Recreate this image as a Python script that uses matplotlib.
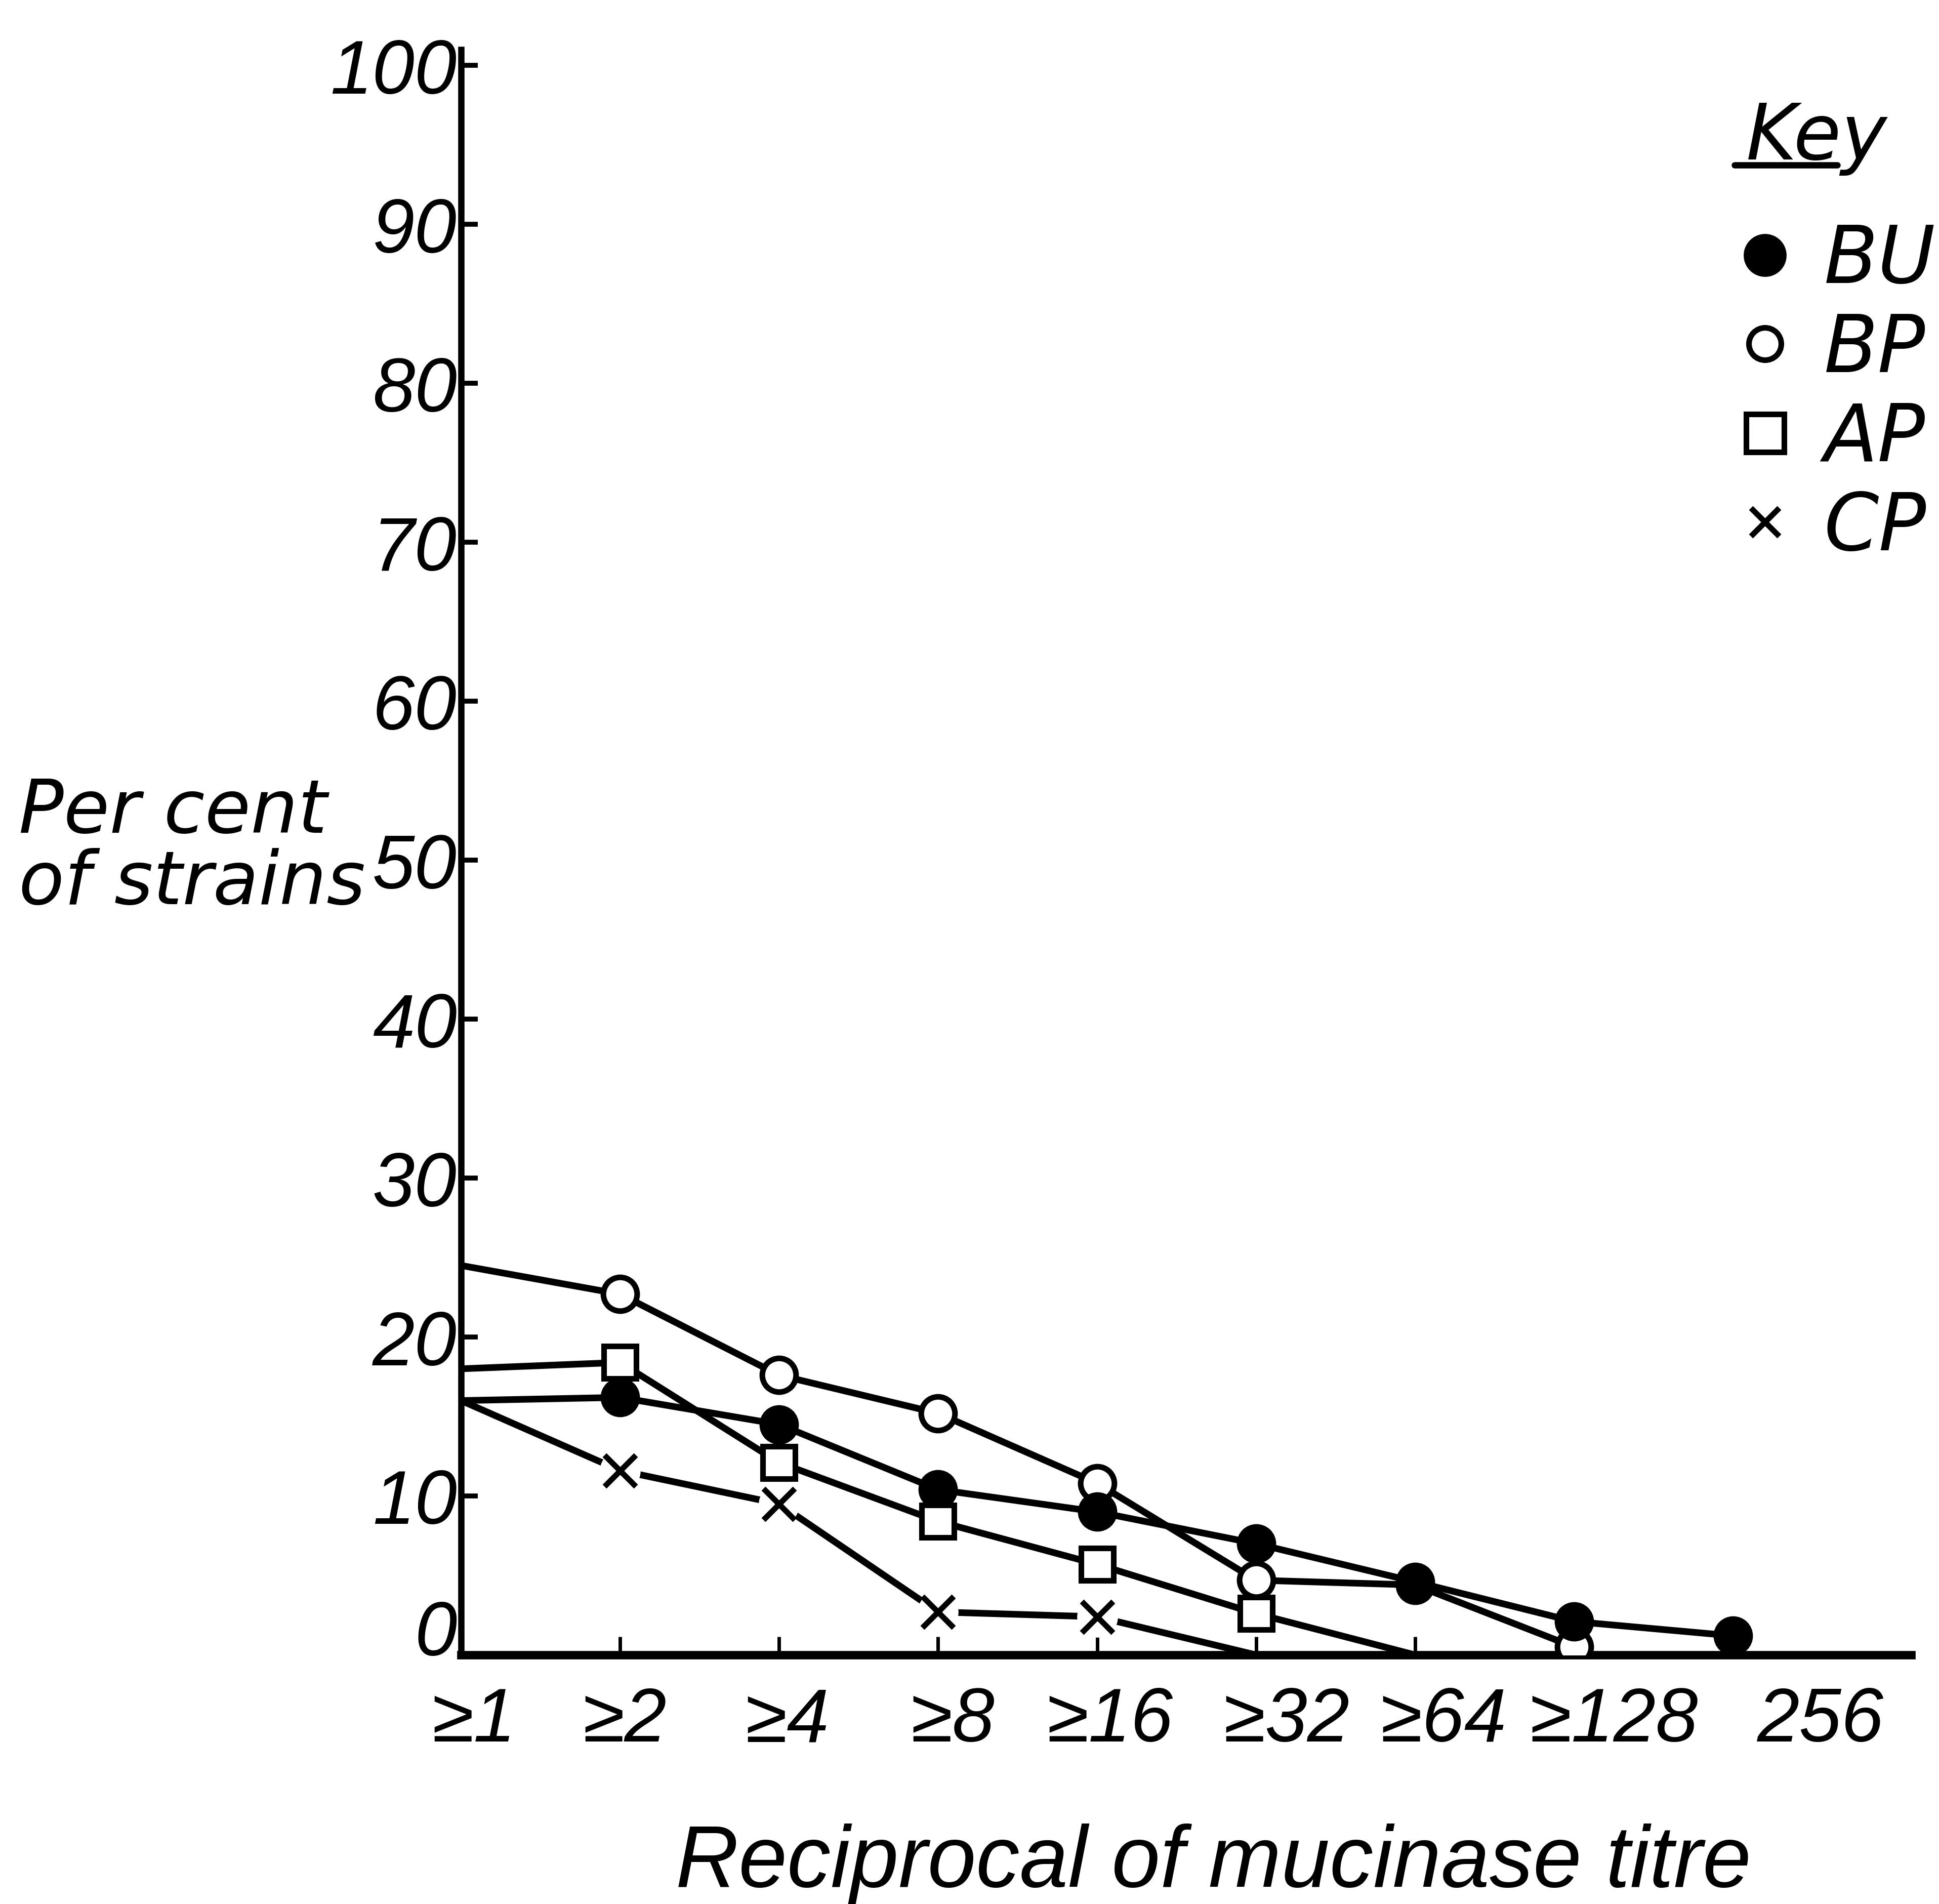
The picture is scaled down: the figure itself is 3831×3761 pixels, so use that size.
import matplotlib.pyplot as plt
from matplotlib.lines import Line2D

# mucinase titre classes and per cent of strains for each group
categories = ['≥1', '≥2', '≥4', '≥8', '≥16', '≥32', '≥64', '≥128', '256']
bu = [16.0, 16.2, 14.5, 10.4, 9.0, 7.0, 4.6, 2.1, 1.2]
bp = [24.5, 22.7, 17.6, 15.2, 10.8, 4.7, 4.4, 0.5]
ap = [18.0, 18.4, 12.1, 8.4, 5.7, 2.6, 0.0]
cp = [16.0, 11.6, 9.5, 2.7, 2.4, 0.0]
yticks = list(range(0, 101, 10))

# tick labels sit a little right of the tick marks
label_pos = [0.08, 1.03, 2.05, 3.09, 4.08, 5.19, 6.18, 7.25, 8.55]

narrow = ['Liberation Sans Narrow', 'Liberation Sans', 'DejaVu Sans']

fig = plt.figure(figsize=(38.31, 37.62), dpi=100)
ax = fig.add_axes([0.2378, 0.1308, 0.7478, 0.8429])

series = [
    ('BU', bu, dict(marker='o', ms=55, mfc='black', mec='black', mew=1), 4),
    ('BP', bp, dict(marker='o', ms=48, mfc='white', mec='black', mew=8), 3),
    ('AP', ap, dict(marker='s', ms=46, mfc='white', mec='black', mew=8), 5),
    ('CP', cp, dict(marker='x', ms=44, mec='black', mew=8), 6),
]

for name, vals, mk, z in series:
    xs = list(range(len(vals)))
    ax.plot(xs, vals, color='black', lw=9.5, solid_capstyle='round', zorder=2)
    # no symbol on the first point (it sits on the axis) or on the final zero
    idx = [i for i in xs[1:] if vals[i] > 0]
    mx = [xs[i] for i in idx]
    my = [vals[i] for i in idx]
    if mk['marker'] == 'x':
        # white disc leaves a gap in the line around each cross
        ax.plot(mx, my, linestyle='none', marker='o', ms=58, mfc='white',
                mec='none', zorder=z - 0.5)
    ax.plot(mx, my, linestyle='none', zorder=z, **mk)

ax.set_xlim(0, 9.12)
ax.set_ylim(0, 101)

for side in ('top', 'right'):
    ax.spines[side].set_visible(False)
ax.spines['left'].set_linewidth(9)
ax.spines['bottom'].set_linewidth(12)

ax.set_xticks(range(1, len(categories)))
ax.set_xticklabels([])
ax.set_xticks(label_pos, categories, minor=True)
ax.tick_params(axis='x', which='major', direction='in', length=26, width=5)
ax.tick_params(axis='x', which='minor', length=0, pad=44)

ax.set_yticks(yticks)
ax.set_yticklabels([str(v) for v in yticks])
ax.tick_params(axis='y', direction='in', length=24, width=7, pad=6)

for lab in ax.get_xticklabels(minor=True) + ax.get_yticklabels():
    lab.set_family(narrow)
    lab.set_style('italic')
    lab.set_fontsize(108)
# the zero sits on top of the x axis rather than centred on it
ax.get_yticklabels()[0].set_verticalalignment('baseline')

ax.set_ylabel('Per cent\nof strains', rotation=0, ha='left', va='center',
              multialignment='left', fontsize=106, style='italic',
              family='DejaVu Sans', linespacing=1.0)
ax.yaxis.set_label_coords(-0.305, 0.503)

ax.set_xlabel('Reciprocal of mucinase titre', fontsize=124, style='italic',
              family=['Liberation Sans', 'DejaVu Sans'], va='center')
ax.xaxis.set_label_coords(0.519, -0.13)

# key in the upper right corner
fig.text(3450 / 3831, 1 - 315 / 3762, 'Key', fontsize=110, style='italic',
         family='DejaVu Sans', ha='left', va='baseline')
fig.add_artist(Line2D([3427 / 3831, 3630 / 3831], [1 - 327 / 3762] * 2,
                      color='black', lw=9, solid_capstyle='round'))

handles = [
    Line2D([], [], linestyle='none', marker='o', ms=60, mfc='black', mec='black'),
    Line2D([], [], linestyle='none', marker='o', ms=46, mfc='white', mec='black', mew=8),
    Line2D([], [], linestyle='none', marker='s', ms=54, mfc='white', mec='black', mew=8),
    Line2D([], [], linestyle='none', marker='x', ms=40, mec='black', mew=8),
]
leg = fig.legend(handles, [s[0] for s in series], loc='upper left',
                 bbox_to_anchor=(3440 / 3831, 1 - 440 / 3762), frameon=False,
                 prop={'family': 'DejaVu Sans', 'style': 'italic', 'size': 112},
                 handlelength=0.6, handletextpad=0.45, labelspacing=0.16,
                 borderpad=0, borderaxespad=0)

fig.savefig('out.png', dpi=100, facecolor='white')
